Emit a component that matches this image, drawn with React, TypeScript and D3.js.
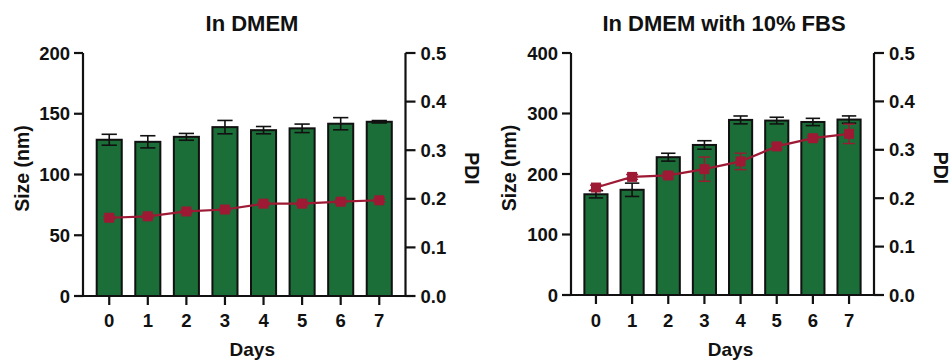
import React from "react";
import * as d3 from "d3";

const days = ["0", "1", "2", "3", "4", "5", "6", "7"];

const sizeDMEM = [128.6, 126.9, 131, 139, 136.5, 138, 141.8, 143.4];
const sizeErrDMEM = [4.5, 5, 2.8, 5.5, 3, 3.5, 5, 1];
const pdiDMEM = [0.161, 0.164, 0.174, 0.178, 0.19, 0.19, 0.194, 0.197];
const pdiErrDMEM = [0.003, 0.003, 0.003, 0.003, 0.003, 0.003, 0.003, 0.003];

const sizeFBS = [166.5, 173.9, 227.8, 248, 289.4, 288.3, 286, 290];
const sizeErrFBS = [6, 11, 6.5, 7, 6.5, 5.5, 6, 6];
const pdiFBS = [0.222, 0.244, 0.247, 0.26, 0.276, 0.307, 0.324, 0.333];
const pdiErrFBS = [0.005, 0.005, 0.005, 0.025, 0.017, 0.005, 0.004, 0.02];

const leftTicksDMEM = [0, 50, 100, 150, 200];
const leftTicksFBS = [0, 100, 200, 300, 400];
const pdiTicks = [0, 0.1, 0.2, 0.3, 0.4, 0.5];

const GREEN = "#1b6e37";
const RED = "#9e1a34";
const FONT = "'Liberation Sans', Arial, Helvetica, sans-serif";

type PanelProps = {
  title: string;
  titleX: number;
  x0: number;
  x1: number;
  yTop: number;
  yBot: number;
  sizeMax: number;
  sizeTicks: number[];
  sizes: number[];
  sizeErr: number[];
  pdi: number[];
  pdiErr: number[];
  pad: number;
  barFrac: number;
  sizeLabelX: number;
  pdiLabelX: number;
};

function Panel(p: PanelProps) {
  const x = d3.scalePoint<string>().domain(days).range([p.x0, p.x1]).padding(p.pad);
  const y = d3.scaleLinear().domain([0, p.sizeMax]).range([p.yBot, p.yTop]);
  const y2 = d3.scaleLinear().domain([0, 0.5]).range([p.yBot, p.yTop]);
  const bw = x.step() * p.barFrac;
  const cap = bw * 0.45;
  const line = d3
    .line<number>()
    .x((_, i) => x(days[i]) as number)
    .y((d) => y2(d));
  const midY = (p.yTop + p.yBot) / 2 - 6;
  return (
    <g fontFamily={FONT} fontWeight="bold" fill="#111">
      <text x={p.titleX} y={31} textAnchor="middle" fontSize={22}>
        {p.title}
      </text>
      {p.sizes.map((v, i) => (
        <rect
          key={"b" + i}
          x={(x(days[i]) as number) - bw / 2}
          y={y(v)}
          width={bw}
          height={p.yBot - y(v)}
          fill={GREEN}
          stroke="#111"
          strokeWidth={2}
        />
      ))}
      {p.sizes.map((v, i) => {
        const cx = x(days[i]) as number;
        const t = y(v + p.sizeErr[i]);
        const b = y(v - p.sizeErr[i]);
        return (
          <g key={"e" + i} stroke="#111" strokeWidth={1.6}>
            <line x1={cx} x2={cx} y1={t} y2={b} />
            <line x1={cx - cap / 2 - 2} x2={cx + cap / 2 + 2} y1={t} y2={t} />
            <line x1={cx - cap / 2 - 2} x2={cx + cap / 2 + 2} y1={b} y2={b} />
          </g>
        );
      })}
      <path d={line(p.pdi) || ""} fill="none" stroke={RED} strokeWidth={2.2} />
      {p.pdi.map((v, i) => {
        const cx = x(days[i]) as number;
        const t = y2(v + p.pdiErr[i]);
        const b = y2(v - p.pdiErr[i]);
        return (
          <g key={"p" + i}>
            <g stroke={RED} strokeWidth={1.4}>
              <line x1={cx} x2={cx} y1={t} y2={b} />
              <line x1={cx - 6} x2={cx + 6} y1={t} y2={t} />
              <line x1={cx - 6} x2={cx + 6} y1={b} y2={b} />
            </g>
            <rect x={cx - 5} y={y2(v) - 5} width={10} height={10} fill={RED} />
          </g>
        );
      })}
      <g stroke="#111" strokeWidth={2.2} fill="none">
        <line x1={p.x0} x2={p.x0} y1={p.yTop} y2={p.yBot + 1} />
        <line x1={p.x1} x2={p.x1} y1={p.yTop} y2={p.yBot + 1} />
        <line x1={p.x0} x2={p.x1} y1={p.yBot} y2={p.yBot} />
        {p.sizeTicks.map((t) => (
          <line key={"lt" + t} x1={p.x0 - 9} x2={p.x0} y1={y(t)} y2={y(t)} />
        ))}
        {pdiTicks.map((t) => (
          <line key={"rt" + t} x1={p.x1} x2={p.x1 + 10} y1={y2(t)} y2={y2(t)} />
        ))}
        {days.map((d) => (
          <line key={"xt" + d} x1={x(d) as number} x2={x(d) as number} y1={p.yBot} y2={p.yBot + 9} />
        ))}
      </g>
      {p.sizeTicks.map((t) => (
        <text key={"ll" + t} x={p.x0 - 13} y={y(t)} dy="0.36em" textAnchor="end" fontSize={18.5}>
          {t}
        </text>
      ))}
      {pdiTicks.map((t) => (
        <text key={"rl" + t} x={p.x1 + 15} y={y2(t)} dy="0.36em" textAnchor="start" fontSize={18.5}>
          {t.toFixed(1)}
        </text>
      ))}
      {days.map((d) => (
        <text key={"xl" + d} x={x(d) as number} y={327} textAnchor="middle" fontSize={18.5}>
          {d}
        </text>
      ))}
      <text x={(p.x0 + p.x1) / 2 + 8} y={356} textAnchor="middle" fontSize={19}>
        Days
      </text>
      <text
        transform={`translate(${p.sizeLabelX},${midY}) rotate(-90)`}
        textAnchor="middle"
        dy="0.36em"
        fontSize={19.5}
      >
        Size (nm)
      </text>
      <text
        transform={`translate(${p.pdiLabelX},${midY}) rotate(90)`}
        textAnchor="middle"
        dy="0.36em"
        fontSize={19.5}
      >
        PDI
      </text>
    </g>
  );
}

export default function App() {
  return (
    <svg
      width={951}
      height={363}
      style={{ position: "absolute", left: 0, top: 0, background: "#fff" }}
    >
      <rect width={951} height={363} fill="#fff" />
      <Panel
        title="In DMEM"
        titleX={252}
        x0={83}
        x1={405.5}
        yTop={53}
        yBot={296}
        sizeMax={200}
        sizeTicks={leftTicksDMEM}
        sizes={sizeDMEM}
        sizeErr={sizeErrDMEM}
        pdi={pdiDMEM}
        pdiErr={pdiErrDMEM}
        pad={0.68}
        barFrac={0.65}
        sizeLabelX={22}
        pdiLabelX={472}
      />
      <Panel
        title="In DMEM with 10% FBS"
        titleX={724}
        x0={571}
        x1={874}
        yTop={53}
        yBot={295}
        sizeMax={400}
        sizeTicks={leftTicksFBS}
        sizes={sizeFBS}
        sizeErr={sizeErrFBS}
        pdi={pdiFBS}
        pdiErr={pdiErrFBS}
        pad={0.69}
        barFrac={0.64}
        sizeLabelX={509}
        pdiLabelX={941}
      />
    </svg>
  );
}
